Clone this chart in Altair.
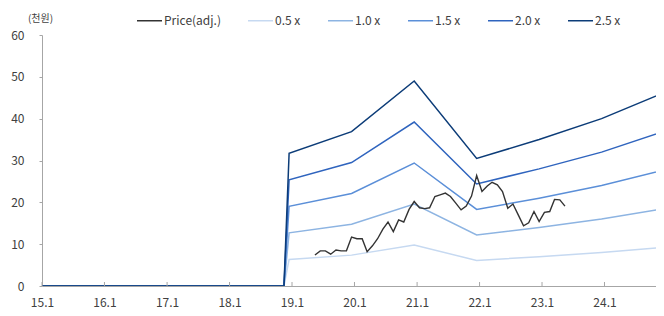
import altair as alt
import pandas as pd

# ---- data ----
series_names = ["Price(adj.)", "0.5 x", "1.0 x", "1.5 x", "2.0 x", "2.5 x"]
series_colors = ["#333333", "#c6d9f1", "#8db4e2", "#5b8fd8", "#2f64be", "#0c3c78"]

band_dates = ["2015-01-01", "2018-11-15", "2018-12-15", "2019-12-15", "2020-12-15",
              "2021-12-15", "2022-12-15", "2023-12-15", "2024-12-15"]
band_05 = [0, 0, 6.35, 7.38, 9.8, 6.1, 7.0, 8.0, 9.25]
band_10 = [0, 0, 12.7, 14.75, 19.6, 12.2, 14.0, 16.0, 18.5]
band_15 = [0, 0, 19.05, 22.1, 29.4, 18.3, 21.0, 24.0, 27.75]
band_20 = [0, 0, 25.4, 29.5, 39.2, 24.4, 28.0, 32.0, 37.0]
band_25 = [0, 0, 31.75, 36.9, 49.0, 30.5, 35.0, 40.0, 46.25]

price_dates = [f"{2019 + (4 + i) // 12}-{(4 + i) % 12 + 1:02d}-15" for i in range(49)]
price_vals = [7.4, 8.4, 8.4, 7.6, 8.6, 8.4, 8.4, 11.7, 11.3, 11.3, 8.2, 9.6, 11.3, 13.6,
              15.3, 13.0, 15.8, 15.3, 18.3, 20.2, 18.7, 18.5, 18.7, 21.4, 21.8, 22.2,
              21.4, 19.8, 18.2, 19.1, 21.5, 26.4, 22.6, 23.9, 24.8, 24.2, 22.6, 18.6,
              19.6, 17.0, 14.4, 15.1, 17.8, 15.4, 17.6, 17.8, 20.7, 20.6, 19.1]

tick_years = [2015, 2016, 2017, 2018, 2019, 2020, 2021, 2022, 2023, 2024]
y_ticks = [0, 10, 20, 30, 40, 50, 60]

# ---- tables ----
bands = {"0.5 x": band_05, "1.0 x": band_10, "1.5 x": band_15, "2.0 x": band_20, "2.5 x": band_25}
band_rows = []
for name, vals in bands.items():
    for d, v in zip(band_dates, vals):
        band_rows.append({"date": d, "value": v, "series": name})
band_df = pd.DataFrame(band_rows)
price_df = pd.DataFrame({"date": price_dates, "value": price_vals, "series": "Price(adj.)"})
tick_df = pd.DataFrame({"date": [f"{y}-01-01" for y in tick_years]})

W, H = 614, 251
FONT = "Noto Sans CJK KR"
TXT = "#404040"
AXC = "#a6a6a6"

x_scale = alt.Scale(domain=[alt.DateTime(year=2015, month=1, date=1),
                            alt.DateTime(year=2024, month=10, date=28)])
y_scale = alt.Scale(domain=[0, 60], nice=False)

x_axis = alt.Axis(format="%y.%-m",
                  values=[alt.DateTime(year=y, month=1, date=1) for y in tick_years],
                  grid=False, ticks=False, domainColor=AXC, labelPadding=11,
                  labelFont=FONT, labelFontSize=12, labelColor=TXT,
                  labelFlush=False, labelOverlap=False, title=None)
y_axis = alt.Axis(values=y_ticks, title="(천원)", titleAngle=0, titleX=-2, titleY=-17,
                  titleAlign="center", titleBaseline="middle", titleFont=FONT,
                  titleFontSize=10, titleFontWeight="normal", titleColor=TXT,
                  grid=False, domainColor=AXC, tickColor=AXC, tickSize=3,
                  labelPadding=15, labelFont=FONT, labelFontSize=12, labelColor=TXT)

color = alt.Color("series:N",
                  scale=alt.Scale(domain=series_names, range=series_colors),
                  legend=alt.Legend(orient="none", legendX=94, legendY=-28,
                                    direction="horizontal", title=None, columns=6,
                                    symbolType="stroke", symbolSize=625,
                                    symbolStrokeWidth=1.5, labelOffset=1,
                                    columnPadding=24, padding=0,
                                    labelFont=FONT, labelFontSize=12,
                                    labelColor=TXT))

band_layer = alt.Chart(band_df).mark_line(strokeWidth=1.5, clip=True).encode(
    x=alt.X("date:T", scale=x_scale, axis=x_axis),
    y=alt.Y("value:Q", scale=y_scale, axis=y_axis),
    color=color,
    order=alt.Order("series:N"),
)
price_layer = alt.Chart(price_df).mark_line(strokeWidth=1.4, clip=True).encode(
    x="date:T", y="value:Q", color=color,
)
tick_layer = alt.Chart(tick_df).mark_rule(color=AXC, strokeWidth=1).encode(
    x="date:T", y=alt.value(H), y2=alt.value(H - 4),
)

chart = alt.layer(band_layer, price_layer, tick_layer).properties(
    width=W, height=H,
    autosize=alt.AutoSizeParams(type="none"),
    padding={"left": 34, "top": 27, "right": 0, "bottom": 22},
).configure_view(stroke=None)

chart.save("out.html", embed_options={"renderer": "svg", "actions": False})
